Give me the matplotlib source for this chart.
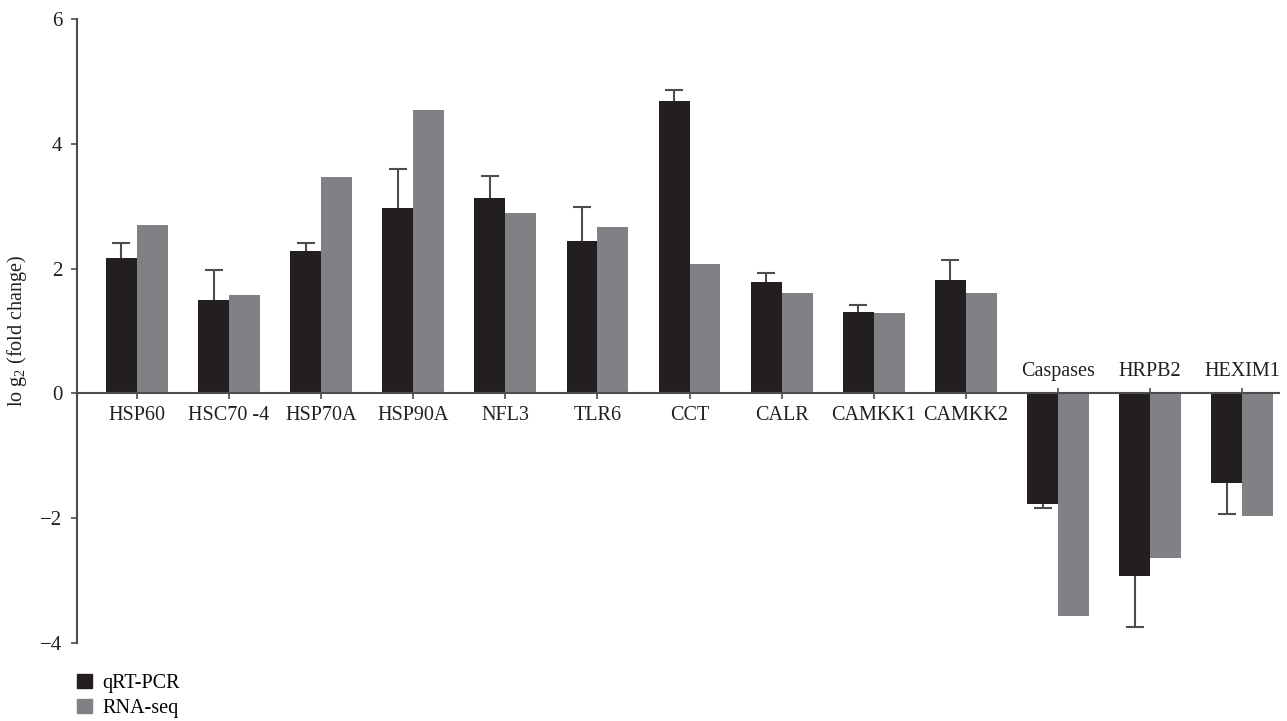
import matplotlib
matplotlib.use("Agg")
import matplotlib.pyplot as plt
import matplotlib.patches as mpatches
import numpy as np

plt.rcParams['font.family'] = ['Liberation Serif', 'DejaVu Serif']
plt.rcParams['mathtext.fontset'] = 'custom'
plt.rcParams['mathtext.rm'] = 'Liberation Serif'
plt.rcParams['mathtext.default'] = 'regular'

genes = ['HSP60', 'HSC70 -4', 'HSP70A', 'HSP90A', 'NFL3', 'TLR6', 'CCT',
         'CALR', 'CAMKK1', 'CAMKK2', 'Caspases', 'HRPB2', 'HEXIM1']
qpcr = [2.17, 1.50, 2.29, 2.97, 3.13, 2.45, 4.69, 1.79, 1.31, 1.82, -1.78, -2.92, -1.43]
qpcr_err = [0.24, 0.48, 0.12, 0.63, 0.35, 0.54, 0.17, 0.14, 0.10, 0.32, 0.05, 0.82, 0.51]
rnaseq = [2.70, 1.58, 3.47, 4.54, 2.89, 2.67, 2.08, 1.61, 1.29, 1.61, -3.56, -2.63, -1.96]

black = '#231f20'
gray = '#808184'
axc = '#4d4d4d'

fig = plt.figure(figsize=(12.87, 7.21), dpi=100)
ax = fig.add_axes([77/1287, 1 - 643/721, (1280 - 77)/1287, (643 - 19)/721])

x = np.arange(len(genes))
w = 0.335
ax.bar(x - w/2, qpcr, w, color=black, zorder=2)
ax.bar(x + w/2, rnaseq, w, color=gray, zorder=2)

# one-sided error bars, pointing away from zero
q = np.array(qpcr)
e = np.array(qpcr_err)
tips = q + np.sign(q) * e
ax.vlines(x - w/2, q, tips, color=axc, lw=1.5, zorder=1)
ax.plot(x - w/2, tips, ls='none', marker='_', markersize=13,
        markeredgewidth=1.5, color=axc, zorder=1)

ax.axhline(0, color=axc, lw=1.5, zorder=3)
for i, (g, v) in enumerate(zip(genes, qpcr)):
    s = 1 if v < 0 else -1
    ax.vlines(i, 0, s * 0.085, color=axc, lw=1.2, zorder=3)
    ax.annotate(g, (i, 0), xytext=(0, s * 16), textcoords='offset points',
                ha='center', va='center', fontsize=14.5, color='#231f20', zorder=4)

ax.set_xlim(-0.65, 12.41)
ax.set_ylim(-4, 6)
ax.set_yticks([-4, -2, 0, 2, 4, 6])
ax.set_yticklabels(['\u22124', '\u22122', '0', '2', '4', '6'])
ax.set_xticks([])
for sp in ['top', 'right', 'bottom']:
    ax.spines[sp].set_visible(False)
ax.spines['left'].set_color(axc)
ax.spines['left'].set_linewidth(1.5)
ax.tick_params(axis='y', length=4.5, width=1.2, color=axc, labelsize=15,
               labelcolor='#231f20', pad=6)
ax.set_ylabel(r'lo g$_2$ (fold change)', fontsize=14.5, color='#231f20', labelpad=8)

handles = [mpatches.Patch(color=black, label='qRT-PCR'),
           mpatches.Patch(color=gray, label='RNA-seq')]
fig.legend(handles=handles, loc='upper left', bbox_to_anchor=(77/1287, 1 - 674/721),
           frameon=False, fontsize=14.5, handlelength=0.72, handleheight=0.72,
           handletextpad=0.55, labelspacing=0.28, borderpad=0, borderaxespad=0)

fig.savefig('out.png', dpi=100)
